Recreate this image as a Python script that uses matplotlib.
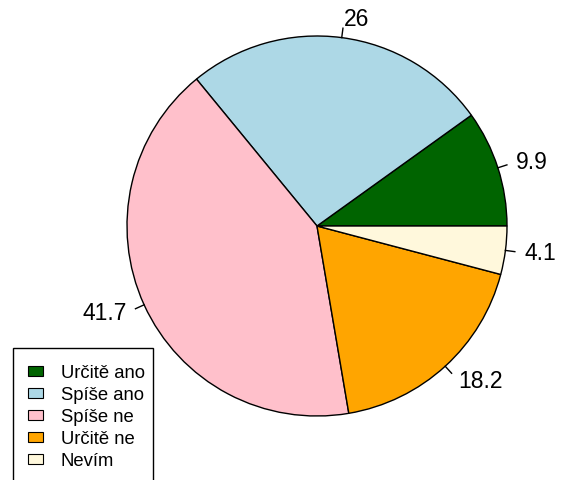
import numpy as np
import matplotlib
matplotlib.use('Agg')
import matplotlib.pyplot as plt
from matplotlib.patches import Rectangle

# Data
labels = ['Určitě ano', 'Spíše ano', 'Spíše ne', 'Určitě ne', 'Nevím']
values = [9.9, 26, 41.7, 18.2, 4.1]
colors = ['#006400', '#ADD8E6', '#FFC0CB', '#FFA500', '#FFF8DC']

plt.rcParams['font.family'] = ['Liberation Sans', 'DejaVu Sans']

W, H = 565, 481
fig = plt.figure(figsize=(W / 100, H / 100), dpi=100)
ax = fig.add_axes([0, 0, 1, 1])

cx, cy, r = 317, H - 227, 190
wedges, _ = ax.pie(values, colors=colors, startangle=0, counterclock=True,
                   center=(cx, cy), radius=r,
                   wedgeprops=dict(edgecolor='black', linewidth=1))
ax.set_xlim(0, W)
ax.set_ylim(0, H)
ax.set_aspect('equal')
ax.axis('off')

# Labels with short tick lines, like R's pie()
total = sum(values)
cum = np.cumsum([0] + values)
for i, v in enumerate(values):
    mid = np.deg2rad((cum[i] + cum[i + 1]) / 2 / total * 360)
    px, py = np.cos(mid), np.sin(mid)
    ax.plot([cx + r * px, cx + 1.05 * r * px], [cy + r * py, cy + 1.05 * r * py],
            color='black', lw=1)
    ax.text(cx + 1.1 * r * px, cy + 1.1 * r * py, f'{v:g}', fontsize=16.5,
            ha='left' if px >= 0 else 'right', va='center')

# Legend drawn by hand (R style box, cut off at the bottom)
ax.add_patch(Rectangle((13, H - 500), 140, 500 - 349, facecolor='white',
                       edgecolor='black', lw=1, clip_on=False, zorder=5))
for i, (lab, c) in enumerate(zip(labels, colors)):
    yc = H - (372 + 22 * i)
    ax.add_patch(Rectangle((28, yc - 5), 15, 10, facecolor=c, edgecolor='black',
                           lw=0.8, zorder=6))
    ax.text(61, yc, lab, fontsize=13.3, ha='left', va='center_baseline', zorder=6)

fig.savefig('out.png', dpi=100)
